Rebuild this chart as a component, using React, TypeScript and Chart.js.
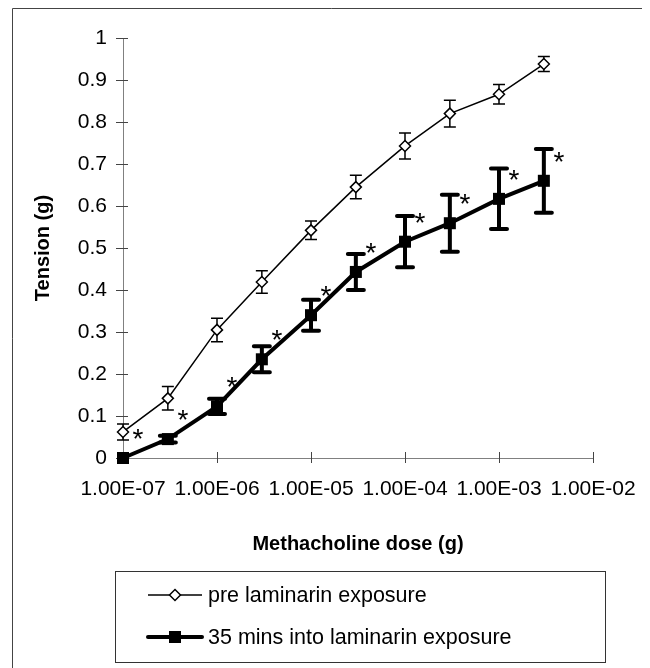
import React, { useEffect, useRef } from 'react';
import { Chart, registerables } from 'chart.js';

Chart.register(...registerables);

// ---- data ----
const doses = [1e-7, 3e-7, 1e-6, 3e-6, 1e-5, 3e-5, 1e-4, 3e-4, 1e-3, 3e-3];
const preMean = [0.062, 0.142, 0.305, 0.419, 0.542, 0.645, 0.743, 0.82, 0.866, 0.938];
const preErr = [0.019, 0.028, 0.028, 0.027, 0.022, 0.028, 0.031, 0.032, 0.023, 0.018];
const postMean = [0.0, 0.045, 0.123, 0.235, 0.34, 0.443, 0.515, 0.559, 0.617, 0.66];
const postErr = [0.0, 0.008, 0.018, 0.031, 0.037, 0.043, 0.061, 0.068, 0.072, 0.076];
const significant = [true, true, true, true, true, true, true, true, true, true];
const xTickValues = [1e-7, 1e-6, 1e-5, 1e-4, 1e-3, 1e-2];
const seriesLabels = ['pre laminarin exposure', '35 mins into laminarin exposure'];
const xTitle = 'Methacholine dose (g)';
const yTitle = 'Tension (g)';

const FONT = '"Liberation Sans", Arial, sans-serif';

const fmtE = (v: number) => {
  const e = Math.round(Math.log10(v));
  const m = v / Math.pow(10, e);
  return m.toFixed(2) + 'E' + (e < 0 ? '-' : '+') + String(Math.abs(e)).padStart(2, '0');
};

const drawDiamond = (ctx: CanvasRenderingContext2D, x: number, y: number, r: number, lw: number) => {
  ctx.save();
  ctx.beginPath();
  ctx.moveTo(x, y - r);
  ctx.lineTo(x + r, y);
  ctx.lineTo(x, y + r);
  ctx.lineTo(x - r, y);
  ctx.closePath();
  ctx.fillStyle = '#fff';
  ctx.fill();
  ctx.lineWidth = lw;
  ctx.strokeStyle = '#000';
  ctx.stroke();
  ctx.restore();
};

const decorPlugin = {
  id: 'decor',
  beforeDatasetsDraw(chart: any) {
    const { ctx, scales, chartArea } = chart;
    const x = scales.x;
    const y = scales.y;
    ctx.save();
    // crossing tick marks
    ctx.strokeStyle = '#444';
    ctx.lineWidth = 1;
    ctx.beginPath();
    for (let v = 0; v <= 10; v++) {
      const py = Math.round(y.getPixelForValue(v / 10)) + 0.5;
      ctx.moveTo(chartArea.left - 7, py);
      ctx.lineTo(chartArea.left + 5, py);
    }
    xTickValues.forEach((v) => {
      const px = Math.round(x.getPixelForValue(v)) + 0.5;
      ctx.moveTo(px, chartArea.bottom - 6);
      ctx.lineTo(px, chartArea.bottom + 5);
    });
    ctx.stroke();

    // error bars
    const sets = [
      { m: preMean, e: preErr, w: 1.5, cap: 6, capStyle: 'butt' },
      { m: postMean, e: postErr, w: 4, cap: 8, capStyle: 'round' },
    ];
    sets.forEach((s) => {
      ctx.strokeStyle = '#000';
      ctx.lineWidth = s.w;
      ctx.lineCap = s.capStyle as CanvasLineCap;
      doses.forEach((d, i) => {
        if (s.e[i] <= 0) return;
        const px = x.getPixelForValue(d);
        const top = y.getPixelForValue(s.m[i] + s.e[i]);
        const bot = y.getPixelForValue(s.m[i] - s.e[i]);
        ctx.beginPath();
        ctx.moveTo(px, top);
        ctx.lineTo(px, bot);
        ctx.moveTo(px - s.cap, top);
        ctx.lineTo(px + s.cap, top);
        ctx.moveTo(px - s.cap, bot);
        ctx.lineTo(px + s.cap, bot);
        ctx.stroke();
      });
    });
    ctx.restore();
  },
  afterDraw(chart: any) {
    const { ctx, scales } = chart;
    const x = scales.x;
    const y = scales.y;
    ctx.save();
    // asterisks
    ctx.fillStyle = '#000';
    ctx.font = '28px ' + FONT;
    ctx.textAlign = 'center';
    ctx.textBaseline = 'alphabetic';
    doses.forEach((d, i) => {
      if (!significant[i]) return;
      const px = x.getPixelForValue(d) + 15;
      const py = y.getPixelForValue(postMean[i]) - 26;
      ctx.fillText('*', px, py + 16);
    });

    // legend box
    const lx1 = 107, ly1 = 563, lx2 = 597, ly2 = 654;
    ctx.strokeStyle = '#333';
    ctx.lineWidth = 1;
    ctx.strokeRect(lx1 + 0.5, ly1 + 0.5, lx2 - lx1, ly2 - ly1);
    const rows = [587, 629];
    const sx1 = 140, sx2 = 194, sxm = 167, tx = 200;
    ctx.font = '21.5px ' + FONT;
    ctx.textAlign = 'left';
    ctx.textBaseline = 'middle';
    // row 1
    ctx.strokeStyle = '#000';
    ctx.lineWidth = 1.5;
    ctx.beginPath();
    ctx.moveTo(sx1, rows[0]);
    ctx.lineTo(sx2, rows[0]);
    ctx.stroke();
    drawDiamond(ctx, sxm, rows[0], 5.5, 1.5);
    ctx.fillStyle = '#000';
    ctx.fillText(seriesLabels[0], tx, rows[0] + 1);
    // row 2
    ctx.lineWidth = 4;
    ctx.lineCap = 'round';
    ctx.beginPath();
    ctx.moveTo(sx1, rows[1]);
    ctx.lineTo(sx2, rows[1]);
    ctx.stroke();
    ctx.fillRect(sxm - 6, rows[1] - 6, 12, 12);
    ctx.fillText(seriesLabels[1], tx, rows[1] + 1);

    // outer border
    ctx.strokeStyle = '#444';
    ctx.lineWidth = 1;
    ctx.lineCap = 'butt';
    ctx.beginPath();
    ctx.moveTo(4.5, 700);
    ctx.lineTo(4.5, 0.5);
    ctx.lineTo(700, 0.5);
    ctx.stroke();
    ctx.restore();
  },
};

export default function App() {
  const ref = useRef<HTMLCanvasElement | null>(null);
  useEffect(() => {
    if (!ref.current) return;
    const chart = new Chart(ref.current, {
      type: 'line',
      data: {
        datasets: [
          {
            label: seriesLabels[0],
            data: doses.map((d, i) => ({ x: d, y: preMean[i] })),
            borderColor: '#000',
            borderWidth: 1.5,
            pointStyle: 'rectRot',
            pointRadius: 5.5,
            pointBorderWidth: 1.5,
            pointBackgroundColor: '#fff',
            pointBorderColor: '#000',
            tension: 0,
            clip: false as any,
          },
          {
            label: seriesLabels[1],
            data: doses.map((d, i) => ({ x: d, y: postMean[i] })),
            borderColor: '#000',
            borderWidth: 4,
            pointStyle: 'rect',
            pointRadius: 8.5,
            pointBorderWidth: 0,
            pointBackgroundColor: '#000',
            pointBorderColor: '#000',
            tension: 0,
            clip: false as any,
          },
        ],
      },
      options: {
        responsive: false,
        animation: false,
        events: [],
        layout: { padding: { left: 0, top: 30, right: 57, bottom: 110 } },
        plugins: { legend: { display: false }, tooltip: { enabled: false } },
        scales: {
          x: {
            type: 'logarithmic',
            min: 1e-7,
            max: 1e-2,
            afterBuildTicks: (s: any) => {
              s.ticks = xTickValues.map((v) => ({ value: v }));
            },
            afterFit: (s: any) => {
              s.height = 100;
              s.paddingLeft = 0;
              s.paddingRight = 0;
            },
            grid: { display: true, drawOnChartArea: false, drawTicks: false },
            border: { display: true, color: '#808080', width: 1 },
            ticks: {
              autoSkip: false,
              maxRotation: 0,
              padding: 19,
              color: '#000',
              font: { family: FONT, size: 21 },
              callback: (v: any) => fmtE(Number(v)),
            },
            title: {
              display: true,
              text: xTitle,
              color: '#000',
              font: { family: FONT, size: 20, weight: 'bold' },
              padding: { top: 0, bottom: 2 },
            },
          },
          y: {
            type: 'linear',
            min: 0,
            max: 1,
            afterFit: (s: any) => {
              s.width = 115;
              s.paddingTop = 0;
              s.paddingBottom = 0;
            },
            grid: { display: true, drawOnChartArea: false, drawTicks: false },
            border: { display: true, color: '#808080', width: 1 },
            ticks: {
              stepSize: 0.1,
              padding: 16,
              color: '#000',
              font: { family: FONT, size: 21 },
              callback: (v: any) => String(Math.round(Number(v) * 10) / 10),
            },
            title: {
              display: true,
              text: yTitle,
              color: '#000',
              font: { family: FONT, size: 20, weight: 'bold' },
              padding: { top: 23, bottom: 0 },
            },
          },
        },
      },
      plugins: [decorPlugin],
    } as any);
    return () => chart.destroy();
  }, []);
  return (
    <div style={{ width: 642, height: 660 }}>
      <canvas ref={ref} width={642} height={660} style={{ display: 'block' }} />
    </div>
  );
}
